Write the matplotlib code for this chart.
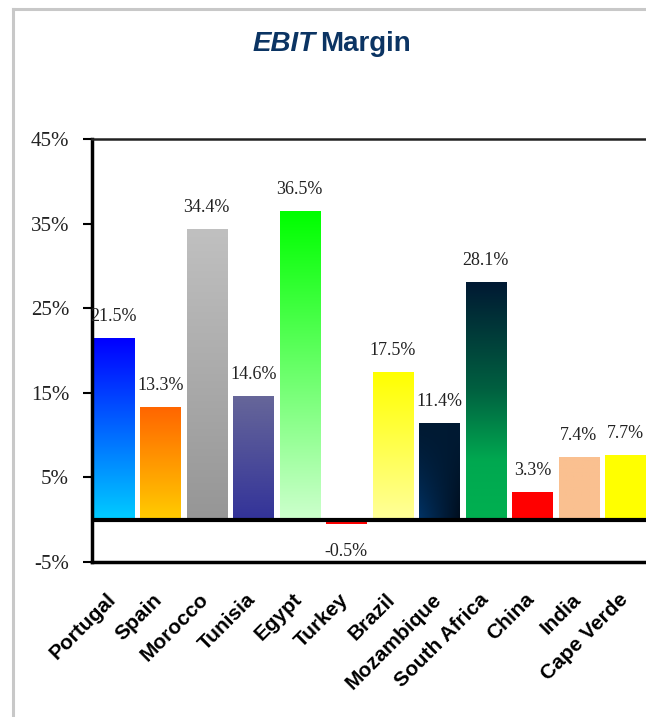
import numpy as np
import matplotlib
matplotlib.use("Agg")
import matplotlib.pyplot as plt
import matplotlib.transforms as mtransforms
from matplotlib.colors import to_rgb
from matplotlib.lines import Line2D

# data
countries = ["Portugal", "Spain", "Morocco", "Tunisia", "Egypt", "Turkey",
             "Brazil", "Mozambique", "South Africa", "China", "India", "Cape Verde"]
margins = [21.5, 13.3, 34.4, 14.6, 36.5, -0.5, 17.5, 11.4, 28.1, 3.3, 7.4, 7.7]
value_labels = ["21.5%", "13.3%", "34.4%", "14.6%", "36.5%", "-0.5%",
                "17.5%", "11.4%", "28.1%", "3.3%", "7.4%", "7.7%"]
ytick_vals = [-5, 5, 15, 25, 35, 45]
ytick_labels = ["-5%", "5%", "15%", "25%", "35%", "45%"]

# fill styles: (top colour, bottom colour) for vertical gradients, strings = special
fills = [
    ("#0000FF", "#00CCFF"),
    ("#FF6600", "#FFCC00"),
    ("#C0C0C0", "#969696"),
    ("#666699", "#333399"),
    ("#00FF00", "#CCFFCC"),
    ("#FF0000", "#FF0000"),
    ("#FFFF00", "#FFFF99"),
    "moz",
    "rsa",
    ("#FF0000", "#FF0000"),
    ("#FAC090", "#FAC090"),
    ("#FFFF00", "#FFFF00"),
]

W, H = 646, 717
fig = plt.figure(figsize=(W / 100, H / 100), dpi=100)

# grey frame, cut off at right and bottom like the source
fx, fy = 13.5 / W, 1 - 9 / H
fig.add_artist(Line2D([fx, fx], [0, fy], transform=fig.transFigure,
                      color="#C8C8C8", linewidth=2.2))
fig.add_artist(Line2D([fx, 1], [fy, fy], transform=fig.transFigure,
                      color="#C8C8C8", linewidth=2.2))

ax = fig.add_axes([92 / W, 155 / H, (W - 92) / W + 0.002, (578 - 155) / H])


def gradient_img(fill, n=64):
    if fill == "moz":
        tl, tr = np.array(to_rgb("#001A33")), np.array(to_rgb("#001A33"))
        bl, br = np.array(to_rgb("#003366")), np.array(to_rgb("#000E1E"))
        yy = np.linspace(0, 1, n)[:, None, None]  # 0 top, 1 bottom
        xx = np.linspace(0, 1, n)[None, :, None]
        top = tl * (1 - xx) + tr * xx
        bot = bl * (1 - xx) + br * xx
        return top * (1 - yy ** 1.5) + bot * yy ** 1.5
    if fill == "rsa":
        stops = [(0.0, "#001A33"), (0.45, "#006040"), (0.75, "#00A850"), (1.0, "#00B050")]
        ys = np.linspace(0, 1, n)
        cols = np.zeros((n, 3))
        for k in range(3):
            cols[:, k] = np.interp(ys, [s[0] for s in stops],
                                   [to_rgb(s[1])[k] for s in stops])
        return np.repeat(cols[:, None, :], 2, axis=1)
    top, bot = np.array(to_rgb(fill[0])), np.array(to_rgb(fill[1]))
    t = np.linspace(0, 1, n)[:, None, None]
    return np.repeat(top * (1 - t) + bot * t, 2, axis=1)


x = np.arange(len(countries))
bw = 0.86
bars = ax.bar(x, margins, width=bw, color="none", edgecolor="none", zorder=2)
for b, fill, v in zip(bars, fills, margins):
    x0 = b.get_x()
    lo, hi = min(0, v), max(0, v)
    img = gradient_img(fill)
    if v < 0:
        img = img[::-1]
    im = ax.imshow(img, extent=[x0, x0 + bw, lo, hi], origin="upper",
                   aspect="auto", interpolation="bilinear", zorder=2)
    im.set_clip_path(b)
ax.set_xlim(-0.465, 11.47)
ax.set_ylim(-5, 45)

for xi, v, lab in zip(x, margins, value_labels):
    off = 15.5 if v >= 0 else -19.5
    ax.annotate(lab, (xi, v), xytext=(0, off), textcoords="offset points",
                ha="center", va="center", fontsize=13,
                family="Liberation Serif", color="#222222")

ax.axhline(0, color="black", linewidth=3, zorder=3)

for side in ["left", "bottom"]:
    ax.spines[side].set_linewidth(2.5)
    ax.spines[side].set_color("black")
ax.spines["top"].set_linewidth(1.8)
ax.spines["top"].set_color("#222222")
ax.spines["right"].set_visible(False)

ax.set_yticks(ytick_vals)
ax.set_yticklabels(ytick_labels, family="Liberation Serif", fontsize=15, color="#222222")
ax.tick_params(axis="y", direction="out", length=6.5, width=1.5, pad=10)

ax.set_xticks(x)
ax.set_xticklabels(countries, rotation=45, ha="right", fontsize=15,
                   fontweight="bold", family="Liberation Sans")
ax.tick_params(axis="x", length=0, pad=20)
shift = mtransforms.ScaledTranslation(6 / 100, 0, fig.dpi_scale_trans)
for t in ax.get_xticklabels():
    t.set_transform(t.get_transform() + shift)

# title with italic "EBIT"
fig.text(316 / W, 1 - 51 / H, "EBIT", ha="right", va="baseline", fontsize=20,
         fontweight="bold", fontstyle="italic", family="Liberation Sans", color="#0B3463")
fig.text(320 / W, 1 - 51 / H, "Margin", ha="left", va="baseline", fontsize=20,
         fontweight="bold", family="Liberation Sans", color="#0B3463")

fig.savefig("out.png", dpi=100)
